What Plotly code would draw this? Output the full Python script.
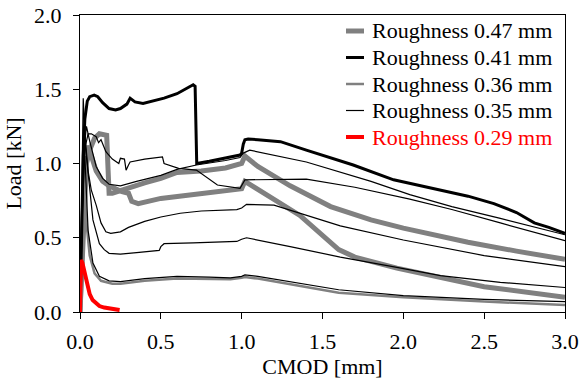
import plotly.graph_objects as go

# ---- data (CMOD [mm], Load [kN]) ----
# Roughness 0.47 mm (thick gray) - two specimens
r047a_x = [0, 0.02, 0.04, 0.06, 0.09, 0.12, 0.165, 0.172, 0.18, 0.2, 0.28, 0.4, 0.5, 0.6, 0.75, 0.9, 1.0, 1.02, 1.1, 1.3, 1.55, 1.8, 2.0, 2.4, 2.7, 3.0]
r047a_y = [0, 0.6, 1.0, 1.09, 1.17, 1.2, 1.19, 1.0, 0.8, 0.8, 0.83, 0.87, 0.90, 0.94, 0.95, 0.97, 1.0, 1.05, 0.98, 0.85, 0.71, 0.62, 0.565, 0.47, 0.41, 0.355]
r047b_x = [0, 0.015, 0.03, 0.05, 0.07, 0.1, 0.14, 0.18, 0.26, 0.3, 0.32, 0.36, 0.5, 0.75, 1.0, 1.02, 1.18, 1.36, 1.6, 1.7, 1.96, 2.5, 3.0]
r047b_y = [0, 0.5, 0.95, 1.12, 1.05, 0.95, 0.88, 0.85, 0.81, 0.80, 0.745, 0.73, 0.765, 0.80, 0.83, 0.88, 0.77, 0.65, 0.42, 0.37, 0.295, 0.17, 0.10]

# Roughness 0.41 mm (thick black)
r041_x = [0, 0.005, 0.012, 0.02, 0.03, 0.045, 0.06, 0.088, 0.11, 0.14, 0.18, 0.22, 0.25, 0.29, 0.31, 0.34, 0.39, 0.52, 0.6, 0.68, 0.70, 0.712, 0.718, 0.722, 0.8, 0.9, 0.99, 1.0, 1.01, 1.02, 1.04, 1.1, 1.24, 1.4, 1.55, 1.69, 1.94, 2.1, 2.27, 2.4, 2.56, 2.7, 2.81, 2.9, 3.0]
r041_y = [0, 0.3, 0.75, 1.05, 1.3, 1.42, 1.45, 1.46, 1.45, 1.41, 1.37, 1.36, 1.37, 1.40, 1.44, 1.415, 1.405, 1.44, 1.47, 1.515, 1.53, 1.52, 1.2, 1.0, 1.015, 1.035, 1.057, 1.07, 1.13, 1.16, 1.165, 1.16, 1.147, 1.09, 1.04, 0.99, 0.89, 0.85, 0.81, 0.78, 0.73, 0.67, 0.60, 0.57, 0.53]

# Roughness 0.36 mm (medium gray)
r036_x = [0, 0.01, 0.02, 0.025, 0.04, 0.06, 0.09, 0.13, 0.2, 0.25, 0.4, 0.6, 0.8, 0.93, 1.0, 1.02, 1.1, 1.6, 2.0, 2.5, 3.0]
r036_y = [0, 0.45, 0.85, 0.9, 0.6, 0.38, 0.26, 0.21, 0.19, 0.19, 0.21, 0.225, 0.225, 0.22, 0.23, 0.235, 0.225, 0.13, 0.10, 0.07, 0.047]

# Roughness 0.35 mm (thin black) - five specimens
r035a_x = [0, 0.015, 0.03, 0.05, 0.07, 0.1, 0.115, 0.13, 0.16, 0.2, 0.24, 0.25, 0.275, 0.285, 0.3, 0.31, 0.4, 0.495, 0.51, 0.52, 0.61, 0.72, 0.78, 0.85, 0.99, 1.0, 1.02, 1.4, 1.7, 2.04, 2.3, 2.6, 3.0]
r035a_y = [0, 0.7, 1.1, 1.2, 1.2, 1.18, 1.14, 1.16, 1.08, 1.03, 1.0, 1.035, 1.03, 0.955, 0.99, 1.01, 1.03, 1.045, 1.045, 1.0, 0.967, 0.956, 0.91, 0.855, 0.833, 0.85, 0.89, 0.895, 0.84, 0.76, 0.69, 0.60, 0.48]
r035b_x = [0, 0.01, 0.025, 0.04, 0.06, 0.1, 0.14, 0.18, 0.25, 0.35, 0.5, 0.6, 0.68, 0.72, 0.9, 0.99, 1.01, 1.05, 1.4, 1.8, 2.04, 2.3, 2.6, 3.0]
r035b_y = [0, 0.5, 1.1, 1.25, 1.15, 0.98, 0.9, 0.86, 0.85, 0.88, 0.92, 0.96, 0.98, 0.99, 1.02, 1.04, 1.07, 1.09, 1.01, 0.88, 0.79, 0.71, 0.63, 0.52]
r035c_x = [0, 0.008, 0.015, 0.02, 0.03, 0.05, 0.07, 0.1, 0.13, 0.16, 0.19, 0.25, 0.3, 0.4, 0.5, 0.62, 0.75, 0.87, 0.97, 1.0, 1.03, 1.2, 1.61, 2.0, 2.5, 3.0]
r035c_y = [0, 0.6, 1.2, 1.44, 1.2, 0.95, 0.82, 0.72, 0.6, 0.54, 0.53, 0.54, 0.57, 0.61, 0.64, 0.665, 0.68, 0.687, 0.69, 0.70, 0.725, 0.72, 0.58, 0.485, 0.38, 0.305]
r035d_x = [0, 0.01, 0.02, 0.03, 0.05, 0.08, 0.12, 0.15, 0.18, 0.25, 0.35, 0.49, 0.5, 0.52, 0.7, 0.97, 1.0, 1.03, 1.3, 1.61, 1.96, 2.23, 2.6, 3.0]
r035d_y = [0, 0.5, 1.0, 1.15, 0.95, 0.62, 0.46, 0.42, 0.395, 0.39, 0.40, 0.415, 0.44, 0.46, 0.465, 0.475, 0.49, 0.50, 0.44, 0.37, 0.30, 0.245, 0.20, 0.165]
r035e_x = [0, 0.01, 0.02, 0.03, 0.05, 0.08, 0.12, 0.18, 0.25, 0.4, 0.6, 0.8, 0.93, 1.0, 1.02, 1.1, 1.6, 2.0, 2.5, 3.0]
r035e_y = [0, 0.5, 0.95, 1.05, 0.55, 0.33, 0.24, 0.21, 0.205, 0.225, 0.24, 0.235, 0.23, 0.24, 0.25, 0.24, 0.15, 0.11, 0.085, 0.07]

# Roughness 0.29 mm (red)
r029_x = [0, 0.003, 0.006, 0.015, 0.027, 0.047, 0.06, 0.078, 0.1, 0.12, 0.15, 0.18, 0.21, 0.245]
r029_y = [0, 0.2, 0.35, 0.33, 0.28, 0.17, 0.12, 0.08, 0.055, 0.04, 0.03, 0.025, 0.018, 0.013]

legend_names = ["Roughness 0.47 mm", "Roughness 0.41 mm", "Roughness 0.36 mm",
                "Roughness 0.35 mm", "Roughness 0.29 mm"]
x_ticks = [0, 0.5, 1.0, 1.5, 2.0, 2.5, 3.0]
y_ticks = [0, 0.5, 1.0, 1.5, 2.0]

GRAY = "#808080"
RED = "#FF0000"
FONT = "Liberation Serif, Times New Roman, serif"
FS = 22

fig = go.Figure()

def add(x, y, color, width, name):
    fig.add_trace(go.Scatter(x=x, y=y, mode="lines", name=name, showlegend=False,
                             line=dict(color=color, width=width)))

add(r047a_x, r047a_y, GRAY, 5, legend_names[0])
add(r047b_x, r047b_y, GRAY, 5, legend_names[0])
add(r036_x, r036_y, GRAY, 2.5, legend_names[2])
for xs, ys in [(r035a_x, r035a_y), (r035b_x, r035b_y), (r035c_x, r035c_y),
               (r035d_x, r035d_y), (r035e_x, r035e_y)]:
    add(xs, ys, "black", 1.2, legend_names[3])
add(r041_x, r041_y, "black", 3, legend_names[1])
add(r029_x, r029_y, RED, 4, legend_names[4])

# ---- legend (drawn as paper-positioned samples and text) ----
legend_styles = [(GRAY, 5), ("black", 3), (GRAY, 2.5), ("black", 1.2), (RED, 4)]
legend_text_colors = ["black", "black", "black", "black", RED]
PLOT_L, PLOT_R, PLOT_T, PLOT_B = 80, 565, 15, 312
W = PLOT_R - PLOT_L
H = PLOT_B - PLOT_T
row0, row_step = 31, 26.5
for i, name in enumerate(legend_names):
    py = row0 + i * row_step
    yp = (PLOT_B - py) / H
    color, width = legend_styles[i]
    fig.add_shape(type="line", xref="paper", yref="paper",
                  x0=(346 - PLOT_L) / W, x1=(364 - PLOT_L) / W, y0=yp, y1=yp,
                  line=dict(color=color, width=width))
    fig.add_annotation(xref="paper", yref="paper", x=(370 - PLOT_L) / W, y=yp,
                       xanchor="left", yanchor="middle", text=name, showarrow=False,
                       font=dict(family=FONT, size=FS, color=legend_text_colors[i]))

axis_common = dict(showline=True, linecolor="black", linewidth=1, mirror=True,
                   ticks="outside", ticklen=6, tickcolor="black", tickwidth=1,
                   showgrid=False, zeroline=False, automargin=False,
                   tickfont=dict(family=FONT, size=FS, color="black"))

fig.update_layout(
    width=582, height=380,
    margin=dict(l=PLOT_L, r=582 - PLOT_R, t=PLOT_T, b=380 - PLOT_B),
    paper_bgcolor="white", plot_bgcolor="white",
    font=dict(family=FONT, size=FS, color="black"),
    showlegend=False,
    xaxis=dict(range=[0, 3], tickvals=x_ticks, tickformat=".1f", ticklabelstandoff=4,
               title=dict(text="CMOD [mm]", font=dict(family=FONT, size=FS), standoff=2),
               **axis_common),
    yaxis=dict(range=[0, 2], tickvals=y_ticks, tickformat=".1f", ticklabelstandoff=7,
               title=dict(text="Load [kN]", font=dict(family=FONT, size=FS), standoff=6),
               **axis_common),
)

fig.write_html("out.html")
